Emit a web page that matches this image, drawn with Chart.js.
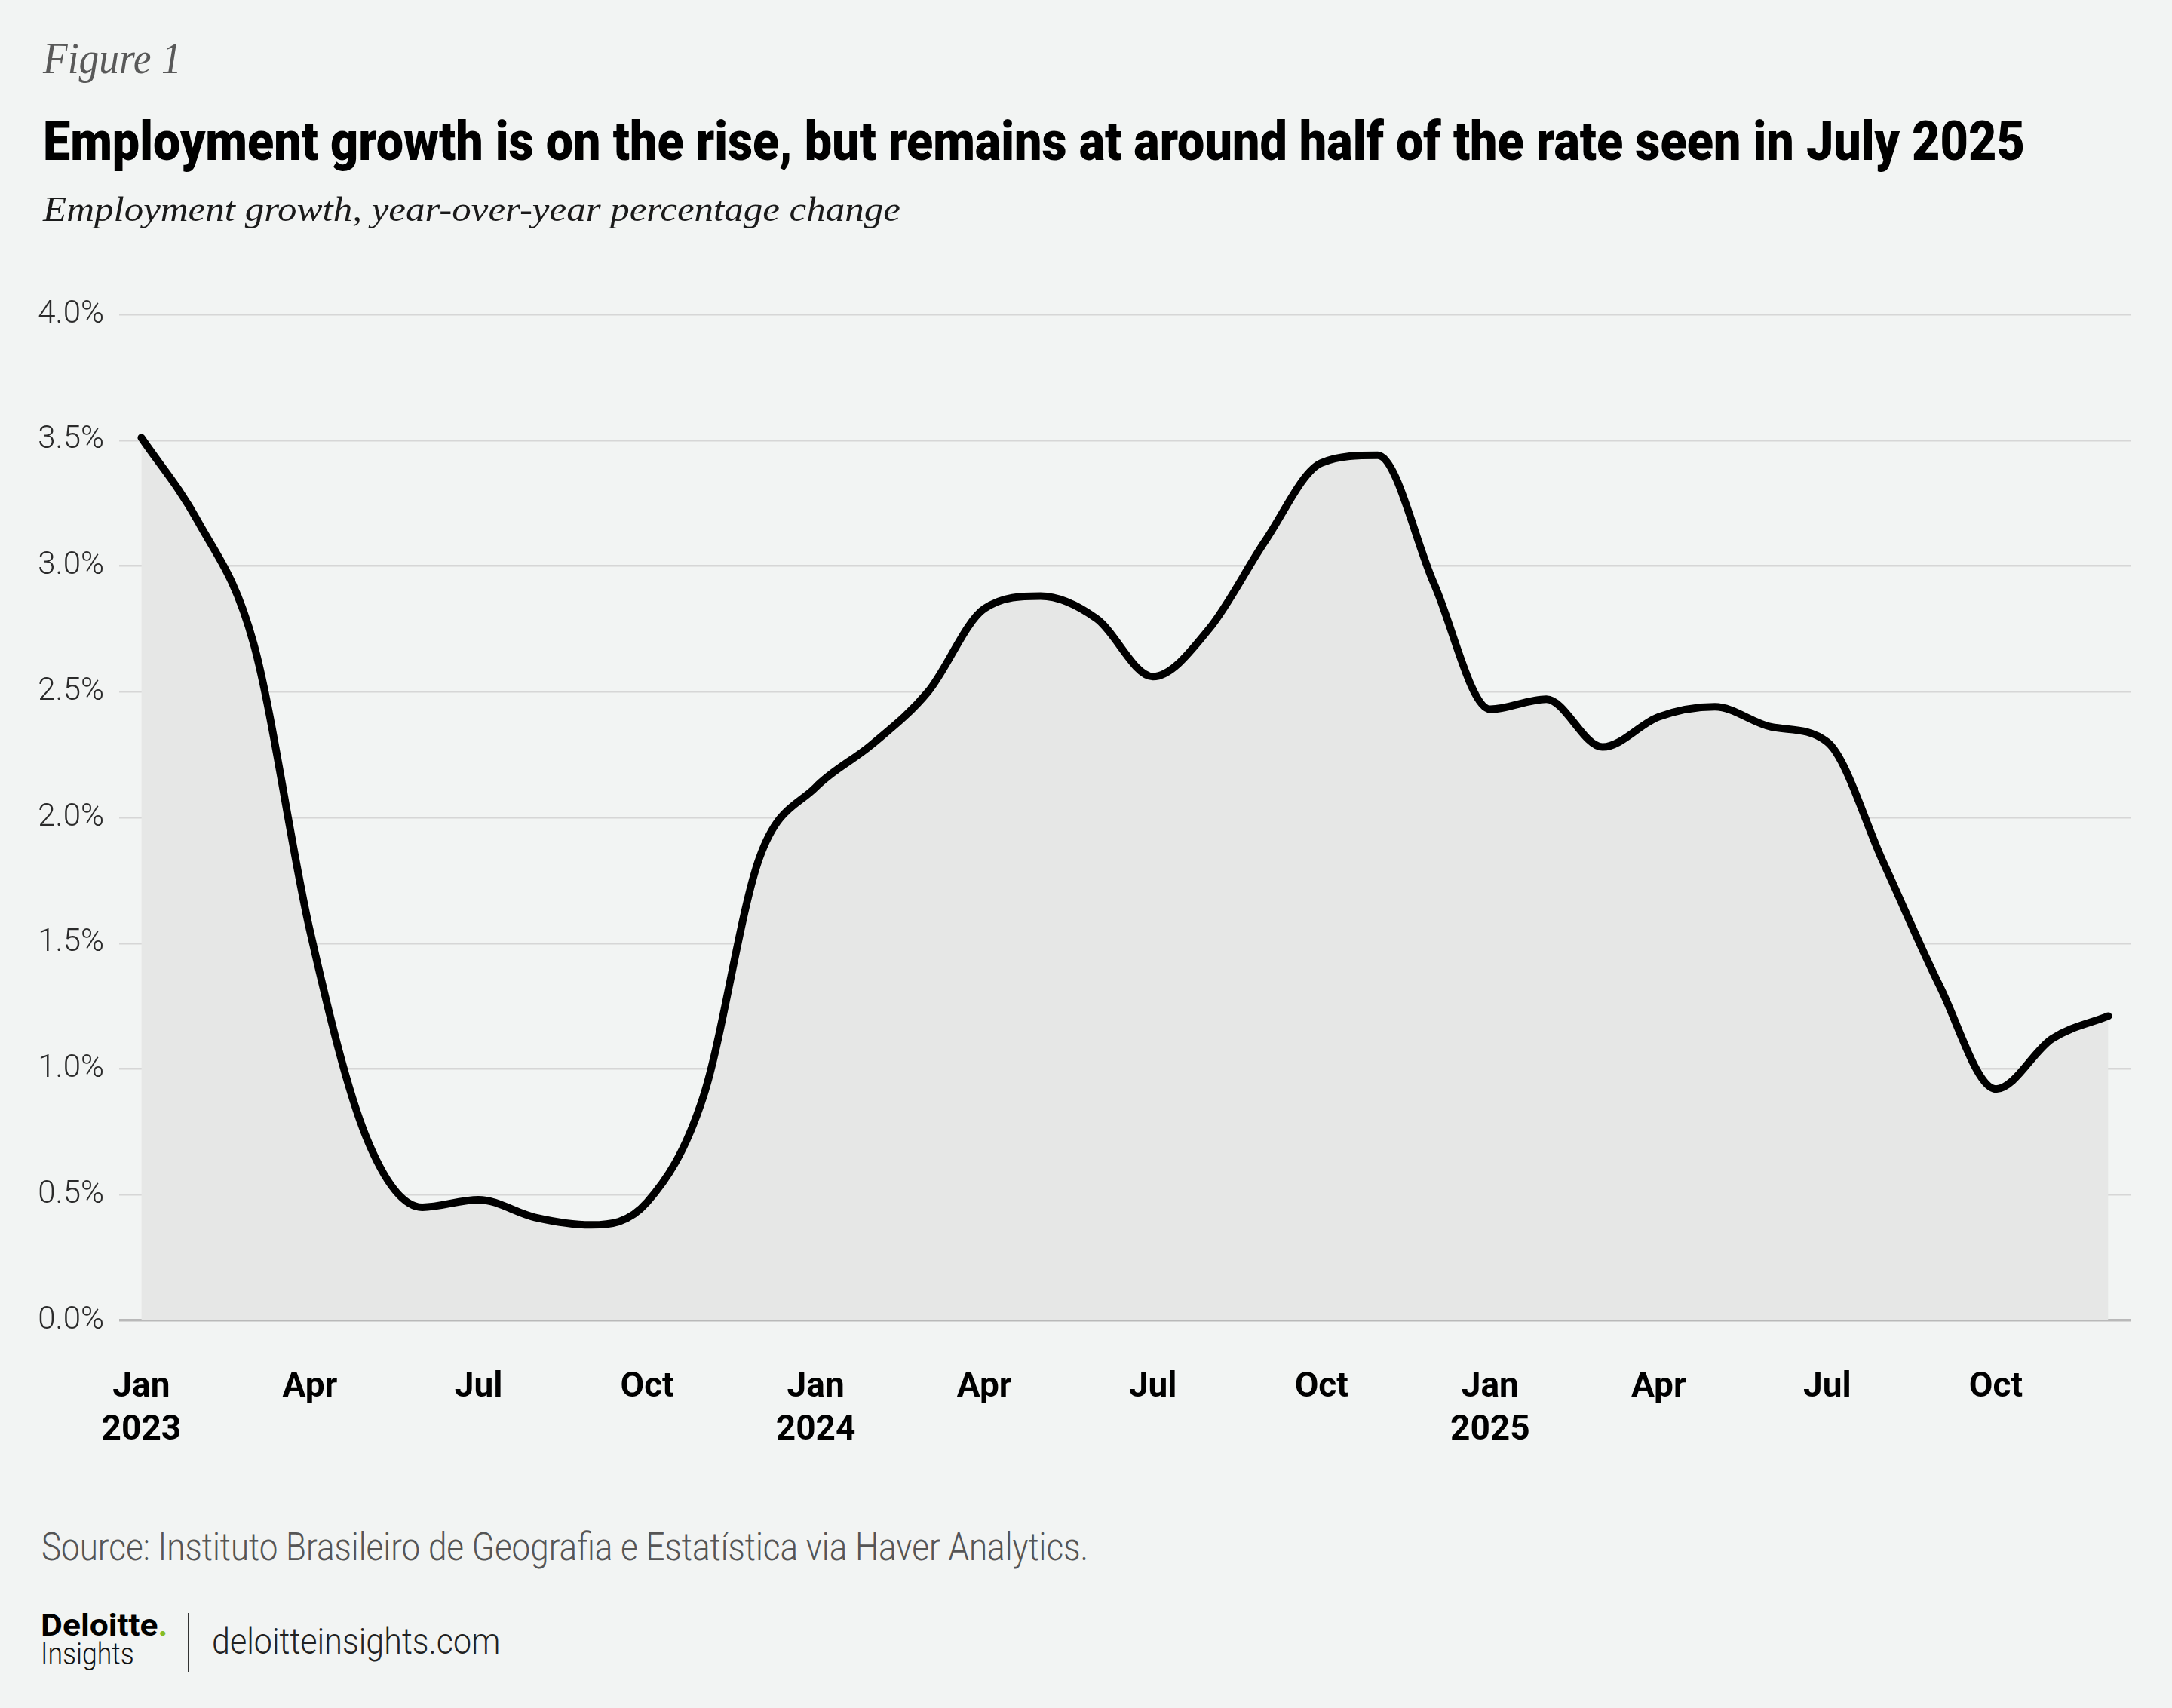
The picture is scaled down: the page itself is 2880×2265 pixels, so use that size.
<!DOCTYPE html>
<html>
<head>
<meta charset="utf-8">
<script src="https://cdn.jsdelivr.net/npm/chart.js@4.4.1/dist/chart.umd.min.js"></script>
<style>
html, body { margin: 0; padding: 0; background: #f2f4f3; }
body { width: 2880px; height: 2265px; position: relative; overflow: hidden; font-family: Roboto, sans-serif; }
.t { position: absolute; white-space: nowrap; line-height: 1; transform-origin: 0 0; display: inline-block; }
.serif { font-family: "Liberation Serif", serif; font-style: italic; }
#wrap { position: absolute; left: 0; top: 360px; width: 2880px; height: 1591px; }
.bar { position: absolute; left: 249px; top: 2139px; width: 2px; height: 78px; background: #333; }
</style>
</head>
<body>
<div class="t serif fit" data-w="184" style="left:57px; top:48px; font-size:59px; color:#595959;">Figure 1</div>
<div class="t fit" data-w="2628" style="left:57px; top:152px; font-size:72px; font-weight:900; color:#000;">Employment growth is on the rise, but remains at around half of the rate seen in July 2025</div>
<div class="t serif fit" data-w="1137" style="left:57px; top:254px; font-size:47px; color:#1a1a1a;">Employment growth, year-over-year percentage change</div>

<div id="wrap"><canvas id="myChart" width="2880" height="1591"></canvas></div>

<div class="t fit" data-w="1388" style="left:55px; top:2026px; font-size:52px; font-weight:300; color:#555;">Source: Instituto Brasileiro de Geografia e Estatística via Haver Analytics.</div>
<div class="t fit" data-w="168" style="left:54px; top:2135px; font-size:41px; font-weight:700; color:#000;">Deloitte<span style="color:#86bc25;">.</span></div>
<div class="t fit" data-w="124" style="left:54px; top:2173px; font-size:41px; font-weight:300; color:#111;">Insights</div>
<div class="bar"></div>
<div class="t fit" data-w="382" style="left:281px; top:2152px; font-size:49px; font-weight:300; color:#222;">deloitteinsights.com</div>

<script>
// monthly, Jan 2023 .. Dec 2025
const months = [
	'2023-01', '2023-02', '2023-03', '2023-04', '2023-05', '2023-06',
	'2023-07', '2023-08', '2023-09', '2023-10', '2023-11', '2023-12',
	'2024-01', '2024-02', '2024-03', '2024-04', '2024-05', '2024-06',
	'2024-07', '2024-08', '2024-09', '2024-10', '2024-11', '2024-12',
	'2025-01', '2025-02', '2025-03', '2025-04', '2025-05', '2025-06',
	'2025-07', '2025-08', '2025-09', '2025-10', '2025-11', '2025-12'
];
const growth = [
	3.51, 3.18, 2.69, 1.55, 0.73, 0.45, 0.48, 0.41, 0.38, 0.47, 0.89, 1.84,
	2.12, 2.29, 2.50, 2.83, 2.88, 2.79, 2.56, 2.75, 3.10, 3.41, 3.44, 2.93,
	2.43, 2.47, 2.28, 2.40, 2.44, 2.36, 2.30, 1.82, 1.33, 0.92, 1.12, 1.21
];
const tickIdx = [0, 3, 6, 9, 12, 15, 18, 21, 24, 27, 30, 33];
const tickMonths = ['Jan', 'Apr', 'Jul', 'Oct', 'Jan', 'Apr', 'Jul', 'Oct', 'Jan', 'Apr', 'Jul', 'Oct'];
const tickYears = ['2023', '', '', '', '2024', '', '', '', '2025', '', '', ''];
const yTicks = [0, 0.5, 1, 1.5, 2, 2.5, 3, 3.5, 4];

const points = months.map((m, i) => ({ x: i, y: growth[i] }));

const ctx = document.getElementById('myChart').getContext('2d');
let myChart = new Chart(ctx, {
	type: 'line',
	data: {
		datasets: [
			{
				label: 'Employment growth',
				data: points,
				borderColor: '#000',
				borderWidth: 10,
				borderCapStyle: 'round',
				borderJoinStyle: 'round',
				backgroundColor: '#e6e7e6',
				fill: 'origin',
				cubicInterpolationMode: 'monotone',
				pointRadius: 0
			}
		]
	},
	options: {
		responsive: false,
		animation: false,
		devicePixelRatio: 1,
		layout: { padding: { top: 57, right: 54, left: 0, bottom: 0 } },
		plugins: { legend: { display: false }, tooltip: { enabled: false } },
		scales: {
			x: {
				type: 'linear',
				min: -0.3945,
				max: 35.409,
				afterBuildTicks: s => { s.ticks = tickIdx.map(v => ({ value: v })); },
				afterFit: s => { s.height = 200; },
				grid: { display: false },
				border: { display: false },
				ticks: {
					padding: 53,
					maxRotation: 0,
					autoSkip: false,
					color: '#000',
					font: { family: 'Roboto', weight: '700', size: 46, lineHeight: 1.24 },
					callback: v => {
						const k = tickIdx.indexOf(v);
						return tickYears[k] ? [tickMonths[k], tickYears[k]] : tickMonths[k];
					}
				}
			},
			y: {
				min: 0,
				max: 4,
				afterBuildTicks: s => { s.ticks = yTicks.map(v => ({ value: v })); },
				afterFit: s => { s.width = 158; },
				border: { display: false },
				grid: {
					drawTicks: false,
					color: c => (c.tick && c.tick.value === 0 ? '#b9b9b9' : '#d6d6d6'),
					lineWidth: c => (c.tick && c.tick.value === 0 ? 3.5 : 2.5)
				},
				ticks: {
					padding: 20,
					color: '#2a2a2a',
					font: { family: 'Roboto', weight: '300', size: 42 },
					callback: v => v.toFixed(1) + '%'
				}
			}
		}
	}
});

// squeeze text blocks to the widths of the condensed originals
const fitText = () => {
	document.querySelectorAll('.fit').forEach(el => {
		const w = el.offsetWidth;
		el.style.transform = 'scaleX(' + (el.dataset.w / w) + ')';
	});
};
document.fonts.ready.then(fitText);
</script>
</body>
</html>
